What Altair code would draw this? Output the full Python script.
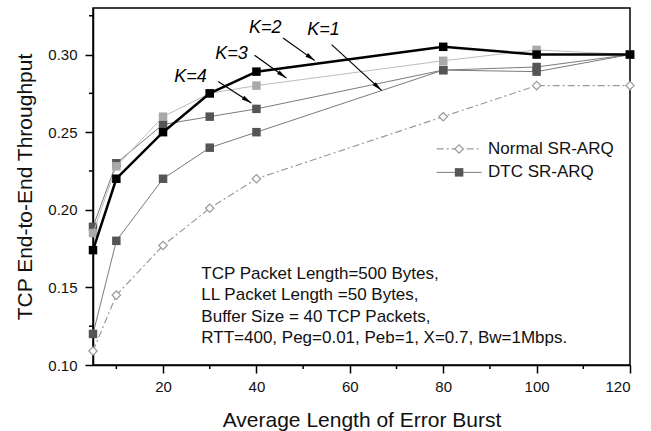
import math
import altair as alt
import pandas as pd

# Average burst length (x) and end-to-end throughput for each scheme
burst = [5, 10, 20, 30, 40, 80, 100, 120]
normal_arq = [0.109, 0.145, 0.177, 0.201, 0.220, 0.260, 0.280, 0.280]
dtc_k1 = [0.120, 0.180, 0.220, 0.240, 0.250, 0.290, 0.289, 0.300]
dtc_k2 = [0.174, 0.220, 0.250, 0.275, 0.289, 0.305, 0.300, 0.300]
dtc_k3 = [0.185, 0.228, 0.260, 0.275, 0.280, 0.296, 0.303, 0.300]
dtc_k4 = [0.189, 0.230, 0.255, 0.260, 0.265, 0.290, 0.292, 0.300]

# Axis ticks
x_ticks = [20, 40, 60, 80, 100, 120]
x_minor = [10, 30, 50, 70, 90, 110]
y_ticks = [0.10, 0.15, 0.20, 0.25, 0.30]
y_minor = [0.125, 0.175, 0.225, 0.275, 0.325]

# K labels and their arrows (data units)
k_labels = ["K=1", "K=2", "K=3", "K=4"]
k_label_x = [50.9, 38.4, 31.2, 22.4]
k_label_y = [0.3128, 0.3139, 0.2971, 0.2821]
arrow_x0 = [56.1, 45.7, 39.6, 31.8]
arrow_y0 = [0.3064, 0.3107, 0.2995, 0.2827]
arrow_x1 = [66.8, 52.5, 46.4, 38.9]
arrow_y1 = [0.2769, 0.2961, 0.2849, 0.2688]

# Simulation parameters note
note_lines = [
    "TCP Packet Length=500 Bytes,",
    "LL Packet Length =50 Bytes,",
    "Buffer Size = 40 TCP Packets,",
    "RTT=400, Peg=0.01, Peb=1, X=0.7, Bw=1Mbps.",
]
note_x = 28.2
note_y = [0.1554, 0.1416, 0.1277, 0.1139]

# Legend rows
legend_names = ["Normal SR-ARQ", "DTC SR-ARQ"]
legend_y = [0.2392, 0.2241]
legend_line_x = [78.6, 88.2]
legend_marker_x = 83.4
legend_text_x = 89.6

X_DOMAIN = [5, 120]
Y_DOMAIN = [0.10, 0.33]
W, H = 537, 357
FONT = "Liberation Sans"

xs = alt.Scale(domain=X_DOMAIN, nice=False, zero=False)
ys = alt.Scale(domain=Y_DOMAIN, nice=False, zero=False)

x_axis = alt.Axis(values=x_ticks, title="Average Length of Error Burst",
                  labelFontSize=15, titleFontSize=21, titleFontWeight="normal",
                  labelPadding=6, titlePadding=15, format="d")
y_axis = alt.Axis(values=y_ticks, title="TCP End-to-End Throughput", format=".2f",
                  labelFontSize=15, titleFontSize=21, titleFontWeight="normal",
                  labelPadding=8, titlePadding=12)


def series_layers(values, line_color, line_width, marker, dash=None):
    df = pd.DataFrame({"burst": burst, "tp": values})
    base = alt.Chart(df).encode(
        x=alt.X("burst:Q", scale=xs, axis=x_axis),
        y=alt.Y("tp:Q", scale=ys, axis=y_axis),
    )
    line_kw = dict(color=line_color, strokeWidth=line_width, clip=False)
    if dash:
        line_kw["strokeDash"] = dash
    line = base.mark_line(**line_kw)
    if marker == "diamond":
        pts = base.mark_point(shape="diamond", filled=True, fill="white",
                              stroke="#9a9a9a", strokeWidth=1.2, size=70,
                              opacity=1, clip=False)
    else:
        pts = base.mark_square(color=marker, size=72, opacity=1, clip=False)
    return [line, pts]


layers = []
layers += series_layers(normal_arq, "#9a9a9a", 1.2, "diamond", dash=[7, 3, 2, 3])
layers += series_layers(dtc_k1, "#7a7a7a", 1.0, "#555555")
layers += series_layers(dtc_k4, "#7a7a7a", 1.0, "#555555")
layers += series_layers(dtc_k3, "#bdbdbd", 1.0, "#a9a9a9")
layers += series_layers(dtc_k2, "#000000", 2.5, "#000000")

# Minor tick marks on both axes
minor_x = alt.Chart(pd.DataFrame({"v": x_minor})).mark_rule(
    color="black", strokeWidth=1.5).encode(
    x=alt.X("v:Q", scale=xs), y=alt.value(H), y2=alt.value(H + 4))
minor_y = alt.Chart(pd.DataFrame({"v": y_minor})).mark_rule(
    color="black", strokeWidth=1.5).encode(
    y=alt.Y("v:Q", scale=ys), x=alt.value(-4), x2=alt.value(0))
layers += [minor_x, minor_y]

# Arrows pointing from the K labels to their curves
px_x = W / (X_DOMAIN[1] - X_DOMAIN[0])
px_y = H / (Y_DOMAIN[1] - Y_DOMAIN[0])
head_size = 120
head_r = math.sqrt(head_size) / 2
angles, hx, hy = [], [], []
for x0, y0, x1, y1 in zip(arrow_x0, arrow_y0, arrow_x1, arrow_y1):
    dx = (x1 - x0) * px_x
    dy = -(y1 - y0) * px_y
    L = math.hypot(dx, dy)
    ux, uy = dx / L, dy / L
    angles.append(math.degrees(math.atan2(dx, -dy)) % 360)
    hx.append(x1 - head_r * ux / px_x)
    hy.append(y1 + head_r * uy / px_y)

arrow_df = pd.DataFrame({"x0": arrow_x0, "y0": arrow_y0, "x1": arrow_x1,
                         "y1": arrow_y1, "hx": hx, "hy": hy, "angle": angles})
shafts = alt.Chart(arrow_df).mark_rule(color="black", strokeWidth=1.2).encode(
    x=alt.X("x0:Q", scale=xs), y=alt.Y("y0:Q", scale=ys),
    x2="x1:Q", y2="y1:Q")
heads = alt.Chart(arrow_df).mark_point(
    shape="M0,-1L-0.4,0.8L0.4,0.8Z", filled=True, color="black",
    size=head_size, opacity=1).encode(
    x=alt.X("hx:Q", scale=xs), y=alt.Y("hy:Q", scale=ys),
    angle=alt.Angle("angle:Q", scale=None))
k_text = alt.Chart(pd.DataFrame({"t": k_labels, "x": k_label_x, "y": k_label_y})).mark_text(
    align="left", baseline="alphabetic", fontSize=18, fontStyle="italic",
    font=FONT, color="black").encode(
    x=alt.X("x:Q", scale=xs), y=alt.Y("y:Q", scale=ys), text="t:N")
layers += [shafts, heads, k_text]

# Parameter note
note = alt.Chart(pd.DataFrame({"t": note_lines, "y": note_y, "x": [note_x] * 4})).mark_text(
    align="left", baseline="alphabetic", fontSize=17, font=FONT, color="#111111").encode(
    x=alt.X("x:Q", scale=xs), y=alt.Y("y:Q", scale=ys), text="t:N")
layers.append(note)

# Legend drawn inside the plot
leg_line_df = pd.DataFrame({"x0": [legend_line_x[0]], "x1": [legend_line_x[1]]})
leg_normal_line = alt.Chart(leg_line_df).mark_rule(
    color="#9a9a9a", strokeWidth=1.2, strokeDash=[7, 3, 2, 3]).encode(
    x=alt.X("x0:Q", scale=xs), x2="x1:Q", y=alt.datum(legend_y[0], scale=ys))
leg_dtc_line = alt.Chart(leg_line_df).mark_rule(
    color="#7a7a7a", strokeWidth=1.0).encode(
    x=alt.X("x0:Q", scale=xs), x2="x1:Q", y=alt.datum(legend_y[1], scale=ys))
leg_marker_df = pd.DataFrame({"x": [legend_marker_x], "y0": [legend_y[0]], "y1": [legend_y[1]]})
leg_diamond = alt.Chart(leg_marker_df).mark_point(
    shape="diamond", filled=True, fill="white", stroke="#9a9a9a",
    strokeWidth=1.2, size=70, opacity=1).encode(
    x=alt.X("x:Q", scale=xs), y=alt.Y("y0:Q", scale=ys))
leg_square = alt.Chart(leg_marker_df).mark_square(
    color="#555555", size=72, opacity=1).encode(
    x=alt.X("x:Q", scale=xs), y=alt.Y("y1:Q", scale=ys))
leg_text = alt.Chart(pd.DataFrame({"t": legend_names, "y": legend_y,
                                   "x": [legend_text_x] * 2})).mark_text(
    align="left", baseline="middle", fontSize=17, font=FONT, color="#111111").encode(
    x=alt.X("x:Q", scale=xs), y=alt.Y("y:Q", scale=ys), text="t:N")
layers += [leg_normal_line, leg_dtc_line, leg_diamond, leg_square, leg_text]

chart = alt.layer(*layers).properties(
    width=W, height=H,
    padding={"left": 93, "top": 8, "right": 21, "bottom": 66},
    autosize="none",
    background="white",
).configure_view(
    stroke="black", strokeWidth=1.5
).configure_axis(
    grid=False, domainColor="black", domainWidth=1.5, tickColor="black",
    tickWidth=1.5, tickSize=8, labelColor="#111111", titleColor="#111111",
    labelFont=FONT, titleFont=FONT,
)

chart.save("out.html", embed_options={"renderer": "svg", "actions": False})
